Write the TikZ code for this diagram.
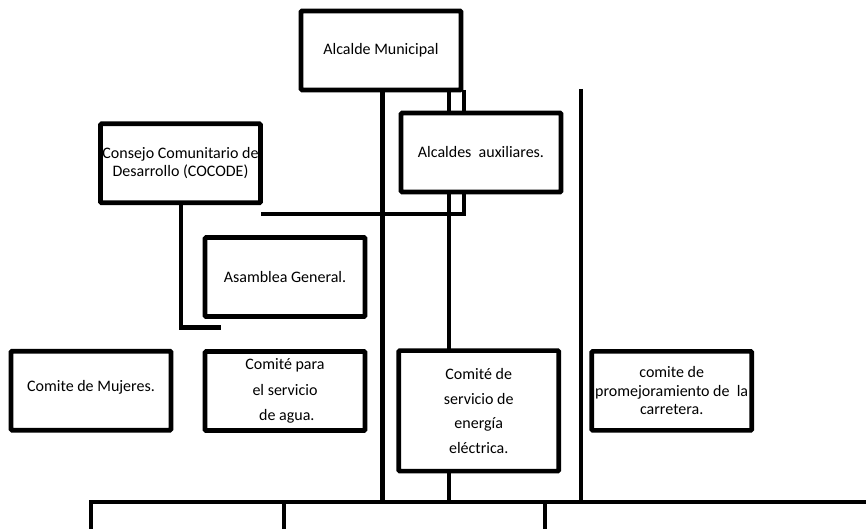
\documentclass[tikz,border=0pt]{standalone}
\usepackage{fontspec}
\setmainfont{Carlito}
\usetikzlibrary{backgrounds}
\begin{document}
\begin{tikzpicture}[x=1pt,y=-1pt,
  box/.style={draw, line width=4.6pt, fill=white, minimum width=160pt, minimum height=79pt,
    inner sep=0pt, outer sep=0pt, align=center, rounded corners=1pt,
    font=\fontsize{16}{18}\selectfont},
  conn/.style={line width=4.6pt, line join=miter}]
\useasboundingbox (0,0) rectangle (866,529);
% junction coordinates
\coordinate (j1) at (382.5,502);
\coordinate (j2) at (449,502);
\coordinate (j3) at (581,502);
\coordinate (k) at (464,214);
\coordinate (c1) at (181,327.5);
\coordinate (c2) at (220.7,327.5);
\coordinate (v3top) at (581,89);
\coordinate (busL) at (91,502);
\coordinate (busR) at (866,502);
\coordinate (d1) at (91,529);
\coordinate (d2) at (284,529);
\coordinate (d3) at (545,529);
% boxes
\node[box] (alc) at (381,50.5) {Alcalde Municipal};
\node[box] (aux) at (481,152.5) {Alcaldes\ \ auxiliares.};
\node[box, font=\fontsize{16}{17.5}\selectfont] (cocode) at (180.5,163.3) {Consejo Comunitario de\\Desarrollo (COCODE)};
\node[box] (asam) at (285,277) {Asamblea General.};
\node[box] (muj) at (91,390.7) {\raisebox{9pt}{Comite de Mujeres.}};
\node[box, font=\fontsize{16}{25.5}\selectfont] (agua) at (285,391) {\raisebox{-2pt}{Comité para}\\\raisebox{-2pt}{el servicio}\\\raisebox{-2pt}{\ de agua.}};
\node[box, minimum height=120.5pt, font=\fontsize{16}{24.5}\selectfont] (ene) at (478.7,410.8) {Comité de\\servicio de\\energía\\eléctrica.};
\node[box, font=\fontsize{16}{18.5}\selectfont] (carr) at (671.7,390.8) {comite de\\promejoramiento de\ \ la\\carretera.};
% connectors
\begin{scope}[on background layer]
\draw[conn] (alc.south -| j1) -- (j1);
\draw[conn] (alc.south -| j2) -- (aux.north -| j2);
\draw[conn] (aux.south -| j2) -- (ene.north -| j2);
\draw[conn] (ene.south -| j2) -- (j2);
\draw[conn] (alc.south -| k) -- (aux.north -| k);
\draw[conn] (aux.south -| k) -- (k) -- (k -| cocode.east);
\draw[conn] (cocode.south -| c1) -- (c1) -- (c2);
\draw[conn] (v3top) -- (j3);
\draw[conn] (d1) -- (busL) -- (busR);
\draw[conn] (d2 |- busL) -- (d2);
\draw[conn] (d3 |- busL) -- (d3);
\end{scope}
\end{tikzpicture}
\end{document}
